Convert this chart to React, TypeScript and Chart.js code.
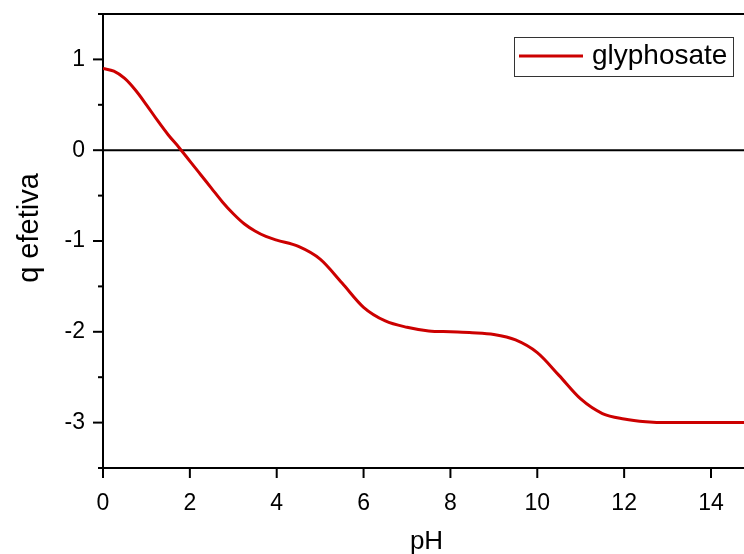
import React, { useEffect, useRef } from "react";
import { Chart, registerables } from "chart.js";

Chart.register(...registerables);

const PH = [0, 0.25, 0.5, 0.75, 1.0, 1.25, 1.5, 1.75, 2.0, 2.25, 2.5, 2.75, 3.0, 3.25, 3.5, 3.75, 4.0, 4.5, 5.0, 5.5, 6.0, 6.5, 7.0, 7.5, 8.0, 8.5, 9.0, 9.5, 10.0, 10.5, 11.0, 11.5, 12.0, 12.5, 13.0, 14.8];
const Q = [0.9, 0.87, 0.79, 0.66, 0.5, 0.33, 0.17, 0.03, -0.12, -0.27, -0.42, -0.57, -0.7, -0.81, -0.89, -0.95, -0.99, -1.06, -1.2, -1.46, -1.73, -1.88, -1.95, -1.99, -2.0, -2.01, -2.03, -2.09, -2.23, -2.48, -2.74, -2.9, -2.96, -2.99, -3.0, -3.0];
const SERIES_LABEL = "glyphosate";
const X_TITLE = "pH";
const Y_TITLE = "q efetiva";
const X_MAJOR = [0, 2, 4, 6, 8, 10, 12, 14];
const Y_MAJOR = [-3, -2, -1, 0, 1];
const Y_MINOR = [-3.5, -2.5, -1.5, -0.5, 0.5, 1.5];

const FONT = "'Liberation Sans', Arial, Helvetica, sans-serif";
const RED = "#cc0000";

export default function App() {
  const ref = useRef<HTMLCanvasElement>(null);
  useEffect(() => {
    const canvas = ref.current!;
    const decor = {
      id: "decor",
      beforeDatasetsDraw(chart: any) {
        const { ctx, chartArea, scales } = chart;
        const y0 = scales.y.getPixelForValue(0);
        ctx.save();
        ctx.strokeStyle = "#000";
        ctx.lineWidth = 2;
        ctx.beginPath();
        ctx.moveTo(chartArea.left, y0);
        ctx.lineTo(chartArea.right, y0);
        ctx.stroke();
        ctx.restore();
      },
      afterDraw(chart: any) {
        const { ctx, chartArea, scales } = chart;
        ctx.save();
        ctx.strokeStyle = "#000";
        ctx.lineWidth = 2;
        ctx.beginPath();
        ctx.moveTo(chartArea.left - 1, chartArea.top);
        ctx.lineTo(chartArea.right, chartArea.top);
        ctx.stroke();
        for (const v of X_MAJOR) {
          const px = scales.x.getPixelForValue(v);
          ctx.beginPath();
          ctx.moveTo(px, chartArea.bottom);
          ctx.lineTo(px, chartArea.bottom + 10);
          ctx.stroke();
        }
        for (const v of Y_MAJOR) {
          const py = scales.y.getPixelForValue(v);
          ctx.beginPath();
          ctx.moveTo(chartArea.left - 10, py);
          ctx.lineTo(chartArea.left, py);
          ctx.stroke();
        }
        for (const v of Y_MINOR) {
          const py = scales.y.getPixelForValue(v);
          ctx.beginPath();
          ctx.moveTo(chartArea.left - 5, py);
          ctx.lineTo(chartArea.left, py);
          ctx.stroke();
        }
        ctx.fillStyle = "#000";
        ctx.font = `26px ${FONT}`;
        ctx.textAlign = "center";
        ctx.textBaseline = "alphabetic";
        ctx.fillText(X_TITLE, (chartArea.left + chartArea.right) / 2 + 3, chartArea.bottom + 81);
        ctx.save();
        ctx.translate(chartArea.left - 73, (chartArea.top + chartArea.bottom) / 2 - 13);
        ctx.rotate(-Math.PI / 2);
        ctx.font = `29px ${FONT}`;
        ctx.textBaseline = "middle";
        ctx.fillText(Y_TITLE, 0, 0);
        ctx.restore();
        const lx = chartArea.right - 230;
        const ly = chartArea.top + 23;
        ctx.lineWidth = 1;
        ctx.strokeStyle = "#333";
        ctx.strokeRect(lx + 0.5, ly + 0.5, 219, 39);
        ctx.strokeStyle = RED;
        ctx.lineWidth = 3;
        ctx.beginPath();
        ctx.moveTo(lx + 5, ly + 19);
        ctx.lineTo(lx + 69, ly + 19);
        ctx.stroke();
        ctx.fillStyle = "#000";
        ctx.font = `28px ${FONT}`;
        ctx.textAlign = "left";
        ctx.textBaseline = "alphabetic";
        ctx.fillText(SERIES_LABEL, lx + 78, ly + 27);
        ctx.restore();
      },
    };
    const chart = new Chart(canvas, {
      type: "line",
      data: {
        datasets: [
          {
            label: SERIES_LABEL,
            data: PH.map((x, i) => ({ x, y: Q[i] })),
            borderColor: RED,
            borderWidth: 3,
            pointRadius: 0,
            cubicInterpolationMode: "monotone",
            fill: false,
          },
        ],
      },
      options: {
        animation: false,
        responsive: false,
        layout: { padding: { top: 14, right: 0, left: 0, bottom: 0 } },
        plugins: { legend: { display: false }, tooltip: { enabled: false } },
        scales: {
          x: {
            type: "linear",
            min: 0,
            max: 14.76,
            afterFit: (s: any) => {
              s.height = 86;
              s.paddingLeft = 0;
              s.paddingRight = 0;
              s.paddingTop = 0;
              s.paddingBottom = 0;
            },
            afterBuildTicks: (s: any) => { s.ticks = X_MAJOR.map((v) => ({ value: v })); },
            grid: { display: false, drawTicks: false },
            border: { display: true, color: "#000", width: 2 },
            ticks: {
              autoSkip: false,
              maxRotation: 0,
              padding: 22,
              color: "#000",
              font: { family: FONT, size: 23 },
            },
          },
          y: {
            type: "linear",
            min: -3.5,
            max: 1.5,
            afterFit: (s: any) => {
              s.width = 103;
              s.paddingLeft = 0;
              s.paddingRight = 0;
              s.paddingTop = 0;
              s.paddingBottom = 0;
            },
            afterBuildTicks: (s: any) => { s.ticks = Y_MAJOR.map((v) => ({ value: v })); },
            grid: { display: false, drawTicks: false },
            border: { display: true, color: "#000", width: 2 },
            ticks: {
              padding: 18,
              color: "#000",
              font: { family: FONT, size: 23 },
            },
          },
        },
      },
      plugins: [decor],
    } as any);
    return () => chart.destroy();
  }, []);
  return (
    <div style={{ position: "fixed", left: 0, top: 0, width: 744, height: 554, background: "#fff" }}>
      <canvas ref={ref} width={744} height={554} style={{ display: "block" }} />
    </div>
  );
}
